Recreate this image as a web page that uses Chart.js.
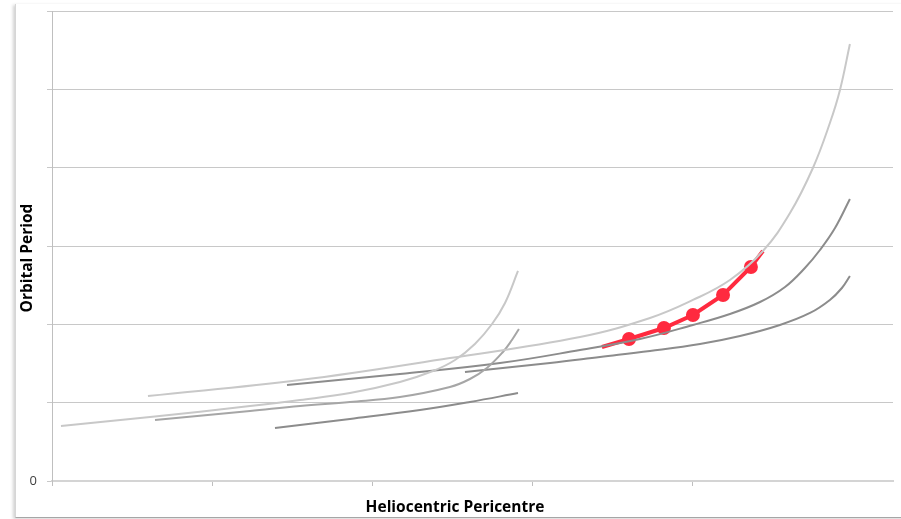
<!DOCTYPE html>
<html>
<head>
<meta charset="utf-8">
<script src="https://cdn.jsdelivr.net/npm/chart.js@4/dist/chart.umd.min.js"></script>
<style>
  html, body { margin: 0; padding: 0; background: #ffffff; }
  #wrap { position: relative; width: 901px; height: 519px; overflow: hidden; }
  #frame { position: absolute; left: 15px; top: 4px; width: 900px; height: 513px;
           background: #fff; border-left: 1px solid #d6d6d6; border-bottom: 1px solid #a6a6a6;
           box-shadow: -2px 1px 3px rgba(0,0,0,0.18); }
  #c { position: absolute; left: 0; top: 0; }
</style>
</head>
<body>
<div id="wrap">
  <div id="frame"></div>
  <canvas id="c" width="901" height="519"></canvas>
</div>
<script>
// ---- Data ----
const xTitle = "Heliocentric Pericentre";
const yTitle = "Orbital Period";
const yTickLabels = { 0: "0" };

const lightUpperX = [0.599, 1.548, 2.484, 3.296, 3.733, 4.001, 4.232, 4.438, 4.607, 4.750, 4.856, 4.919, 4.981];
const lightUpperY = [1.085, 1.289, 1.570, 1.838, 2.081, 2.311, 2.566, 2.936, 3.421, 3.996, 4.570, 4.992, 5.579];

const lightLowerX = [0.056, 0.612, 1.236, 1.548, 1.860, 2.172, 2.378, 2.516, 2.640, 2.747, 2.828, 2.909];
const lightLowerY = [0.702, 0.817, 0.957, 1.034, 1.123, 1.264, 1.404, 1.545, 1.749, 2.004, 2.272, 2.681];

const midLowerX = [0.643, 1.236, 1.548, 1.860, 2.172, 2.484, 2.609, 2.715, 2.815, 2.871, 2.915];
const midLowerY = [0.779, 0.894, 0.957, 1.009, 1.072, 1.200, 1.302, 1.443, 1.647, 1.800, 1.941];

const darkUpperX = [1.467, 2.172, 2.797, 3.296, 3.670, 4.001, 4.232, 4.420, 4.576, 4.700, 4.794, 4.888, 4.981];
const darkUpperY = [1.226, 1.366, 1.506, 1.672, 1.813, 1.992, 2.132, 2.285, 2.477, 2.719, 2.949, 3.230, 3.600];

const darkMidX = [2.578, 3.109, 3.421, 3.733, 4.045, 4.295, 4.544, 4.732, 4.856, 4.931, 4.981];
const darkMidY = [1.392, 1.506, 1.583, 1.660, 1.749, 1.851, 1.992, 2.145, 2.311, 2.464, 2.617];

const darkLowX = [1.392, 1.860, 2.297, 2.609, 2.909];
const darkLowY = [0.677, 0.792, 0.906, 1.009, 1.123];

const redX = [3.433, 3.602, 3.820, 4.001, 4.189, 4.363, 4.438];
const redY = [1.711, 1.813, 1.953, 2.119, 2.375, 2.732, 2.936];
const redMarked = [false, true, true, true, true, true, false];

// ---- Build ----
function pts(xs, ys) { return xs.map((x, i) => ({ x: x, y: ys[i] })); }

function grayLine(xs, ys, color) {
  return {
    data: pts(xs, ys), showLine: true, borderColor: color, borderWidth: 2,
    pointRadius: 0, tension: 0.4, fill: false
  };
}

const titlePlugin = {
  id: 'axisTitles',
  afterDraw(chart) {
    const ctx = chart.ctx;
    ctx.save();
    ctx.fillStyle = '#000000';
    ctx.font = 'bold 15.5px "Open Sans"';
    ctx.textAlign = 'center';
    ctx.textBaseline = 'middle';
    ctx.fillText(xTitle, 455, 508);
    ctx.translate(28, 258);
    ctx.rotate(-Math.PI / 2);
    ctx.fillText(yTitle, 0, 0);
    ctx.restore();
  }
};

new Chart(document.getElementById('c'), {
  type: 'scatter',
  data: {
    datasets: [
      grayLine(lightUpperX, lightUpperY, '#c8c8c8'),
      grayLine(lightLowerX, lightLowerY, '#c8c8c8'),
      grayLine(midLowerX, midLowerY, '#a6a6a6'),
      grayLine(darkUpperX, darkUpperY, '#8c8c8c'),
      grayLine(darkMidX, darkMidY, '#8c8c8c'),
      grayLine(darkLowX, darkLowY, '#8c8c8c'),
      {
        data: pts(redX, redY), showLine: true, borderColor: '#ff2a3f', borderWidth: 4,
        tension: 0, backgroundColor: '#ff2a3f', pointBorderColor: '#ff2a3f',
        pointRadius: redMarked.map(m => m ? 7 : 0), pointBorderWidth: 0
      }
    ]
  },
  options: {
    responsive: false,
    animation: false,
    devicePixelRatio: 1,
    layout: { padding: { top: 11, right: 8, left: 0, bottom: 0 } },
    plugins: { legend: { display: false }, tooltip: { enabled: false } },
    scales: {
      x: {
        type: 'linear', min: 0, max: 5.25,
        afterBuildTicks: s => { s.ticks = s.ticks.filter(t => Math.abs(t.value - Math.round(t.value)) < 1e-6); },
        afterFit: s => { s.height = 38; s.paddingLeft = 0; s.paddingRight = 0; },
        ticks: { stepSize: 1, autoSkip: false, callback: () => '' },
        grid: { drawOnChartArea: false, drawTicks: true, tickLength: 5, color: '#bfbfbf' },
        border: { display: true, color: '#d4d4d4', width: 2 }
      },
      y: {
        type: 'linear', min: 0, max: 6,
        afterFit: s => { s.width = 52; s.paddingTop = 0; s.paddingBottom = 0; },
        ticks: {
          stepSize: 1, padding: 10, color: '#404040', autoSkip: false,
          font: { family: '"Open Sans"', size: 13 },
          callback: v => (yTickLabels[v] !== undefined ? yTickLabels[v] : '')
        },
        grid: { drawTicks: true, tickLength: 5, color: '#c8c8c8' },
        border: { display: true, color: '#bfbfbf', width: 1 }
      }
    }
  },
  plugins: [titlePlugin]
});
</script>
</body>
</html>
